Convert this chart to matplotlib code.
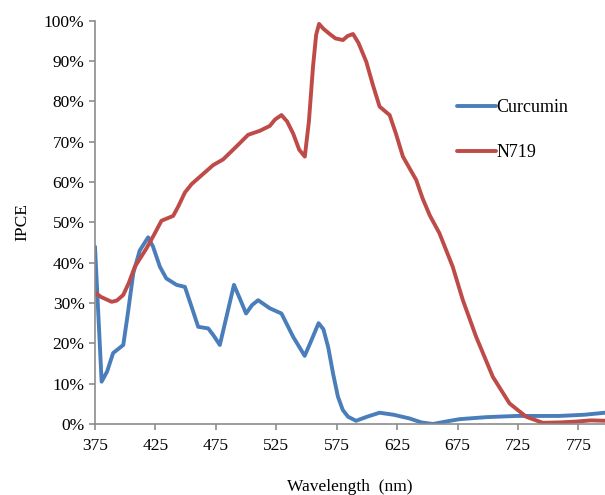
import matplotlib
matplotlib.use("Agg")
import matplotlib.pyplot as plt
from matplotlib.ticker import FuncFormatter

curcumin_nm = [375, 380.5, 385, 390, 398.4, 402, 406.7, 412, 419, 423, 428.7, 434, 442.5, 449.4,
               455, 460.4, 468.7, 473, 478.3, 483.8, 490, 495, 500, 505, 510, 519.6, 529.3,
               539, 548.5, 553, 560, 564, 568, 572, 576, 580, 584.4, 591, 600, 610.5, 622,
               635, 645, 654.6, 665, 676.6, 698.7, 723.5, 759, 780, 797]
curcumin_ipce = [44, 10.5, 13, 17.6, 19.6, 27, 37.4, 43, 46.3, 44, 39, 36.1, 34.5, 34,
                 29, 24.1, 23.7, 22, 19.6, 26.6, 34.5, 31, 27.4, 29.5, 30.7, 28.7, 27.4,
                 21.6, 16.9, 20, 25, 23.5, 19, 12.5, 6.8, 3.5, 1.8, 0.8, 1.8, 2.8, 2.3,
                 1.4, 0.4, 0, 0.6, 1.2, 1.7, 2, 2, 2.3, 2.8]

n719_nm = [375, 380, 388.8, 393, 398.4, 403, 408, 417.7, 424, 430, 439.7, 444, 449.4, 455,
           461.8, 472.8, 481, 492, 501.7, 511.4, 519.6, 524, 529.3, 534, 539, 544, 548.6,
           552, 555.4, 558, 560.4, 564, 569.2, 574, 580.2, 584, 588.5, 593, 599.5, 605,
           610.5, 618.8, 624, 629.8, 640.8, 646, 651.9, 660, 671, 679.4, 690.4, 704.2,
           718, 731.8, 745.5, 760, 773, 785, 797]
n719_ipce = [32.6, 31.5, 30.3, 30.6, 32, 35, 39, 43.6, 47, 50.4, 51.6, 54, 57.4, 59.5,
             61.3, 64.2, 65.6, 68.8, 71.7, 72.7, 73.9, 75.5, 76.6, 75, 72, 68, 66.3,
             75, 88.6, 96.5, 99.2, 98, 96.7, 95.6, 95.2, 96.2, 96.7, 94.5, 89.8, 84,
             78.7, 76.6, 72, 66.3, 60.5, 56, 51.8, 47.3, 39, 30.7, 21.6, 11.7,
             5.1, 1.8, 0.3, 0.4, 0.6, 0.9, 0.8]

x_ticks = [375, 425, 475, 525, 575, 625, 675, 725, 775]
y_ticks = [0, 10, 20, 30, 40, 50, 60, 70, 80, 90, 100]

plt.rcParams['font.family'] = ['Liberation Serif', 'DejaVu Serif']

fig = plt.figure(figsize=(6.05, 4.95), dpi=100)
ax = fig.add_axes([0.157, 0.1434, 0.843, 0.8148])

ax.plot(curcumin_nm, curcumin_ipce, color='#4a7ebb', lw=2.8, label='Curcumin',
        solid_joinstyle='round', solid_capstyle='round')
ax.plot(n719_nm, n719_ipce, color='#be4b48', lw=2.8, label='N719',
        solid_joinstyle='round', solid_capstyle='round')

ax.set_xlim(375, 797)
ax.set_ylim(0, 100)
ax.set_xticks(x_ticks)
ax.set_yticks(y_ticks)
ax.yaxis.set_major_formatter(FuncFormatter(lambda v, p: f"{int(v)}%"))

for s in ['top', 'right']:
    ax.spines[s].set_visible(False)
for s in ['left', 'bottom']:
    ax.spines[s].set_color('#8c8c8c')
    ax.spines[s].set_linewidth(1.2)
ax.tick_params(axis='both', colors='#8c8c8c', length=4, width=1.2, direction='out',
               labelcolor='black', labelsize=12.5)
ax.tick_params(axis='x', pad=6)

ax.set_xlabel('Wavelength  (nm)', fontsize=12.5, labelpad=18)
ax.set_ylabel('IPCE', fontsize=12.5, labelpad=10)

leg = ax.legend(loc='upper left', bbox_to_anchor=(0.677, 0.845), frameon=False,
                fontsize=13, handlelength=2.2, handletextpad=0.0, labelspacing=1.55)

fig.savefig('out.png', dpi=100)
